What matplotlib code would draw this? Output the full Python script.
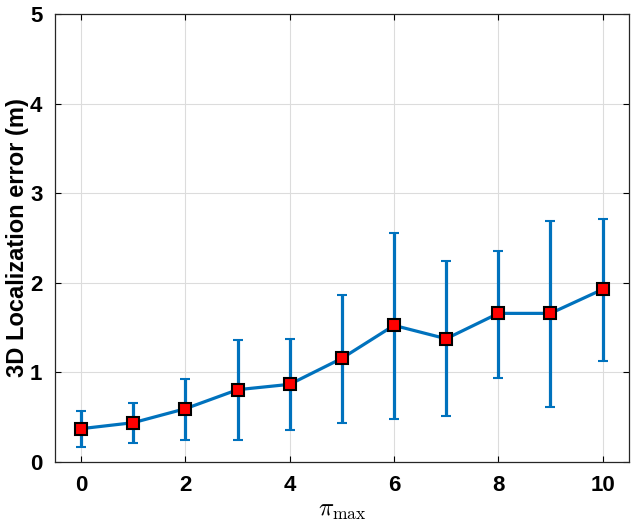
import matplotlib
matplotlib.use("Agg")
import matplotlib.pyplot as plt
import numpy as np

# values
pi_max = [0, 1, 2, 3, 4, 5, 6, 7, 8, 9, 10]
err_mean = [0.372, 0.439, 0.595, 0.807, 0.867, 1.157, 1.525, 1.376, 1.659, 1.659, 1.927]
err_upper = [0.573, 0.662, 0.926, 1.362, 1.373, 1.864, 2.552, 2.240, 2.358, 2.686, 2.709]
err_lower = [0.164, 0.208, 0.242, 0.242, 0.357, 0.432, 0.476, 0.513, 0.938, 0.614, 1.127]

plt.rcParams['font.family'] = ['Liberation Sans', 'DejaVu Sans']
plt.rcParams['font.weight'] = 'bold'
plt.rcParams['mathtext.fontset'] = 'cm'

mean = np.array(err_mean)
yerr = [mean - np.array(err_lower), np.array(err_upper) - mean]

fig = plt.figure(figsize=(6.37, 5.27), dpi=100)
ax = fig.add_axes([0.0863, 0.1233, 0.9007, 0.8501])

ax.errorbar(pi_max, err_mean, yerr=yerr, color='#0072BD', linewidth=2.3,
            elinewidth=2.3, capsize=3.6, capthick=2.3,
            marker='s', markersize=8, markerfacecolor='#FF0000',
            markeredgecolor='black', markeredgewidth=1.5, zorder=3)

ax.set_xlim(-0.5, 10.5)
ax.set_ylim(0, 5)
ax.set_xticks([0, 2, 4, 6, 8, 10])
ax.set_yticks([0, 1, 2, 3, 4, 5])
ax.grid(True, color='#dcdcdc', linewidth=0.8)
ax.set_axisbelow(True)
ax.tick_params(direction='in', length=4, width=0.8, labelsize=16,
               top=True, right=True, pad=9)
for lab in ax.get_xticklabels() + ax.get_yticklabels():
    lab.set_fontweight('bold')
for s in ax.spines.values():
    s.set_linewidth(0.9)
    s.set_color('#262626')

ax.set_xlabel(r'$\pi_{\max}$', fontsize=18, labelpad=2)
ax.set_ylabel('3D Localization error (m)', fontsize=17, fontweight='bold', labelpad=1)

fig.savefig('out.png', dpi=100)
